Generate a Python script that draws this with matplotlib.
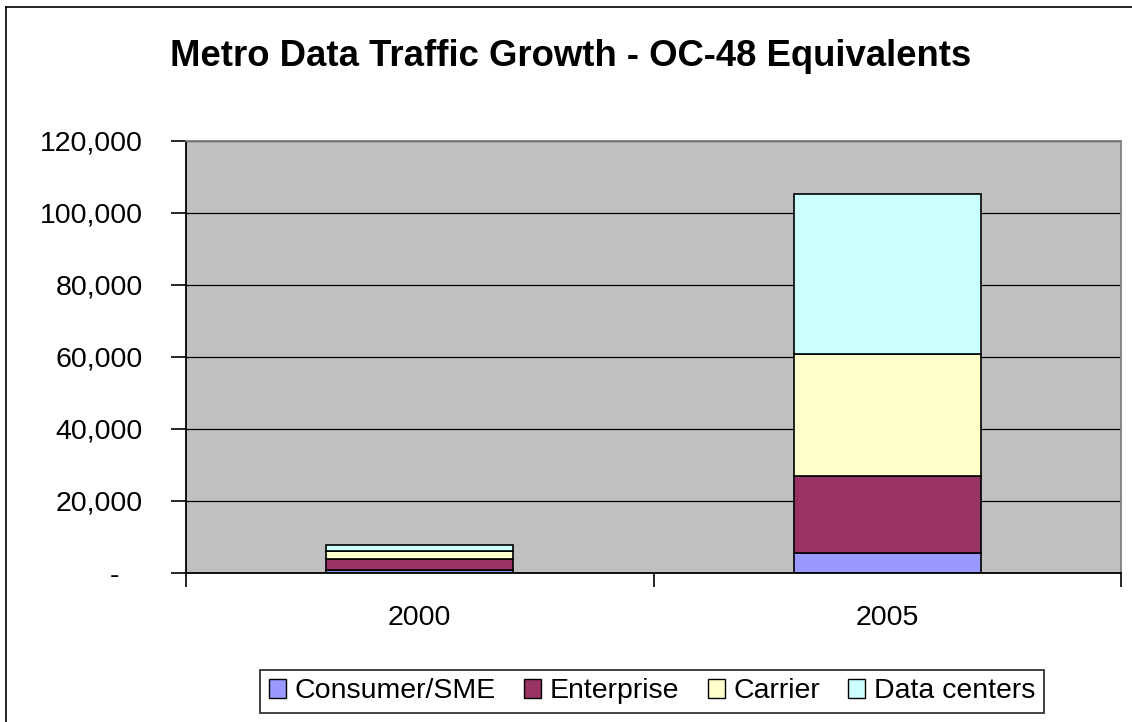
import matplotlib
matplotlib.use("Agg")
import matplotlib.pyplot as plt
from matplotlib.lines import Line2D
from matplotlib.patches import Patch
import numpy as np

plt.rcParams['font.family'] = ['Liberation Sans', 'DejaVu Sans']

title = "Metro Data Traffic Growth - OC-48 Equivalents"
years = ["2000", "2005"]
series_names = ["Consumer/SME", "Enterprise", "Carrier", "Data centers"]
consumer = [700, 5600]
enterprise = [3200, 21300]
carrier = [2300, 34000]
data_centers = [1600, 44500]
series_values = [consumer, enterprise, carrier, data_centers]
colors = ["#9999FF", "#993366", "#FFFFCC", "#CCFFFF"]
yticks = [0, 20000, 40000, 60000, 80000, 100000, 120000]

W, H = 1132, 722
fig = plt.figure(figsize=(W / 100, H / 100), dpi=100)
fig.patch.set_facecolor("white")

# figure border (left & top visible)
fig.add_artist(Line2D([5.5 / W, 5.5 / W], [0, 1 - 6.5 / H], transform=fig.transFigure,
                      color="black", lw=1.2))
fig.add_artist(Line2D([5.5 / W, 1], [1 - 6.5 / H, 1 - 6.5 / H], transform=fig.transFigure,
                      color="black", lw=1.2))

ax = fig.add_axes([186 / W, 1 - 573 / H, (1121 - 186) / W, (573 - 141) / H])
ax.set_facecolor("#C0C0C0")

x = np.arange(len(years))
bottom = np.zeros(len(years))
for name, vals, c in zip(series_names, series_values, colors):
    ax.bar(x, vals, width=0.4, bottom=bottom, color=c, edgecolor="black",
           linewidth=1.2, label=name, zorder=3)
    bottom += np.array(vals)

ax.set_xlim(-0.5, 1.5)
ax.set_ylim(0, 120000)
ax.set_yticks(yticks)
ax.set_yticklabels([("-\u2007 ") if v == 0 else f"{v:,}" for v in yticks])
ax.yaxis.grid(True, color="black", lw=0.9, zorder=1)
ax.set_axisbelow(True)

ax.set_xticks([-0.5, 0.5, 1.5], minor=False)
ax.set_xticklabels(["", "", ""])
ax.set_xticks(x, minor=True)
ax.set_xticklabels(years, minor=True)
ax.tick_params(axis="x", which="major", direction="out", length=10, width=1.2, color="black")
ax.tick_params(axis="x", which="minor", length=0, pad=23, labelsize=20.5)
ax.tick_params(axis="y", direction="out", length=11, width=1.2, pad=20, labelsize=20.5)

for s in ["top", "right"]:
    ax.spines[s].set_color("#808080")
    ax.spines[s].set_linewidth(1.3)
for s in ["left", "bottom"]:
    ax.spines[s].set_color("black")
    ax.spines[s].set_linewidth(1.3)
ax.spines["bottom"].set_zorder(4)

fig.text(571 / W, 1 - 56 / H, title, ha="center", va="center",
         fontsize=26.3, fontweight="bold")

handles = [Patch(facecolor=c, edgecolor="black", linewidth=1.0) for c in colors]
leg = fig.legend(handles, series_names, loc="center", bbox_to_anchor=(652 / W, 1 - 691.5 / H),
                 ncol=4, frameon=True, fontsize=20.5, handlelength=0.6, handleheight=0.6,
                 handletextpad=0.3, columnspacing=1.0, borderpad=0.3, fancybox=False,
                 borderaxespad=0)
leg.get_frame().set_edgecolor("black")
leg.get_frame().set_linewidth(1.3)

fig.savefig("out.png", dpi=100)
